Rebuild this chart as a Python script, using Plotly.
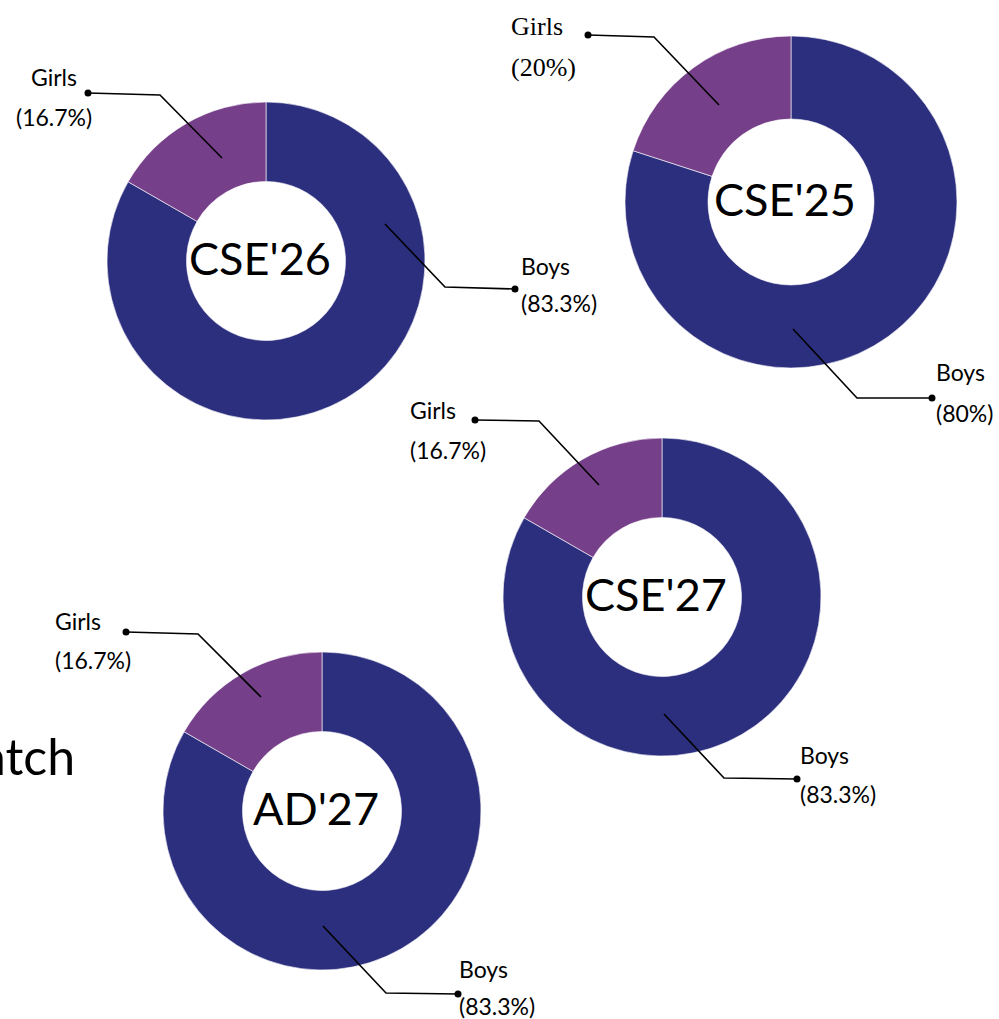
import plotly.graph_objects as go

# data
batches = ["CSE'26", "CSE'25", "CSE'27", "AD'27"]
labels = ["Boys", "Girls"]
boys_pct = [83.3, 80, 83.3, 83.3]
girls_pct = [16.7, 20, 16.7, 16.7]

W, H = 999, 1019
BOYS_COLOR = "#2c2e7e"
GIRLS_COLOR = "#763f89"
FONT = "Lato, 'Noto Sans', sans-serif"
SERIF = "'Liberation Serif', serif"

# donut placement in pixels: centre x, centre y, outer radius
donut_pos = {
    "CSE'26": (266, 261, 159),
    "CSE'25": (791, 202, 166),
    "CSE'27": (662, 597, 159),
    "AD'27": (322, 811, 159),
}

# callouts: leader path offsets from donut centre (start, elbow, dot),
# text anchor (x, y of first line, y of second line), xanchor, font
callouts = [
    ("CSE'26", "Girls", [(-44, -103), (-106, -166), (-178, -168)], (54, 77, 117), "center", FONT),
    ("CSE'26", "Boys", [(119, -37), (179, 26), (249, 28)], (519, 266, 303), "left", FONT),
    ("CSE'25", "Girls", [(-72, -97), (-137, -165), (-203, -167)], (509, 27, 68), "left", SERIF),
    ("CSE'25", "Boys", [(2, 127), (66, 196), (141, 196)], (934, 372, 413), "left", FONT),
    ("CSE'27", "Girls", [(-63, -112), (-123, -176), (-187, -177)], (408, 410, 450), "left", FONT),
    ("CSE'27", "Boys", [(2, 117), (62, 181), (135, 182)], (798, 755, 794), "left", FONT),
    ("AD'27", "Girls", [(-61, -114), (-124, -177), (-196, -179)], (53, 621, 660), "left", FONT),
    ("AD'27", "Boys", [(1, 115), (64, 182), (136, 183)], (457, 969, 1006), "left", FONT),
]


def px(x):
    return x / W


def py(y):
    return 1 - y / H


fig = go.Figure()

for i, b in enumerate(batches):
    cx, cy, r = donut_pos[b]
    fig.add_trace(go.Pie(
        labels=labels,
        values=[boys_pct[i], girls_pct[i]],
        hole=0.5,
        sort=False,
        direction="clockwise",
        rotation=0,
        textinfo="none",
        marker=dict(colors=[BOYS_COLOR, GIRLS_COLOR], line=dict(color="white", width=0.6)),
        domain=dict(x=[px(cx - r), px(cx + r)], y=[py(cy + r), py(cy - r)]),
        showlegend=False,
    ))
    fig.add_annotation(
        x=px(cx - 6), y=py(cy - 3), xref="paper", yref="paper",
        text=b, showarrow=False, xanchor="center", yanchor="middle",
        font=dict(family=FONT, size=45, color="black"),
    )

shapes = []
for b, lab, pts, (tx, ty1, ty2), xa, fnt in callouts:
    i = batches.index(b)
    cx, cy, r = donut_pos[b]
    val = boys_pct[i] if lab == "Boys" else girls_pct[i]
    p = [(cx + dx, cy + dy) for dx, dy in pts]
    path = "M {} {} L {} {} L {} {}".format(
        px(p[0][0]), py(p[0][1]), px(p[1][0]), py(p[1][1]), px(p[2][0]), py(p[2][1]))
    shapes.append(dict(type="path", path=path, xref="paper", yref="paper",
                       line=dict(color="black", width=1.6)))
    shapes.append(dict(type="circle", xref="paper", yref="paper",
                       xsizemode="pixel", ysizemode="pixel",
                       xanchor=px(p[2][0]), yanchor=py(p[2][1]),
                       x0=-3.5, x1=3.5, y0=-3.5, y1=3.5,
                       fillcolor="black", line=dict(color="black", width=0)))
    fsize = 26 if fnt == SERIF else 23
    fig.add_annotation(x=px(tx), y=py(ty1), xref="paper", yref="paper", text=lab,
                       showarrow=False, xanchor=xa, yanchor="middle",
                       font=dict(family=fnt, size=fsize, color="black"))
    fig.add_annotation(x=px(tx), y=py(ty2), xref="paper", yref="paper", text=f"({val:g}%)",
                       showarrow=False, xanchor=xa, yanchor="middle",
                       font=dict(family=fnt, size=fsize, color="black"))

# partially cropped heading on the left edge
fig.add_annotation(x=px(77), y=py(756), xref="paper", yref="paper", text="Batch",
                   showarrow=False, xanchor="right", yanchor="middle",
                   font=dict(family=FONT, size=50, color="black"))

fig.update_layout(
    width=W, height=H,
    margin=dict(l=0, r=0, t=0, b=0),
    paper_bgcolor="white",
    plot_bgcolor="white",
    shapes=shapes,
    showlegend=False,
)

fig.write_html("out.html", config={"displayModeBar": False},
               post_script="document.body.style.margin='0';")
